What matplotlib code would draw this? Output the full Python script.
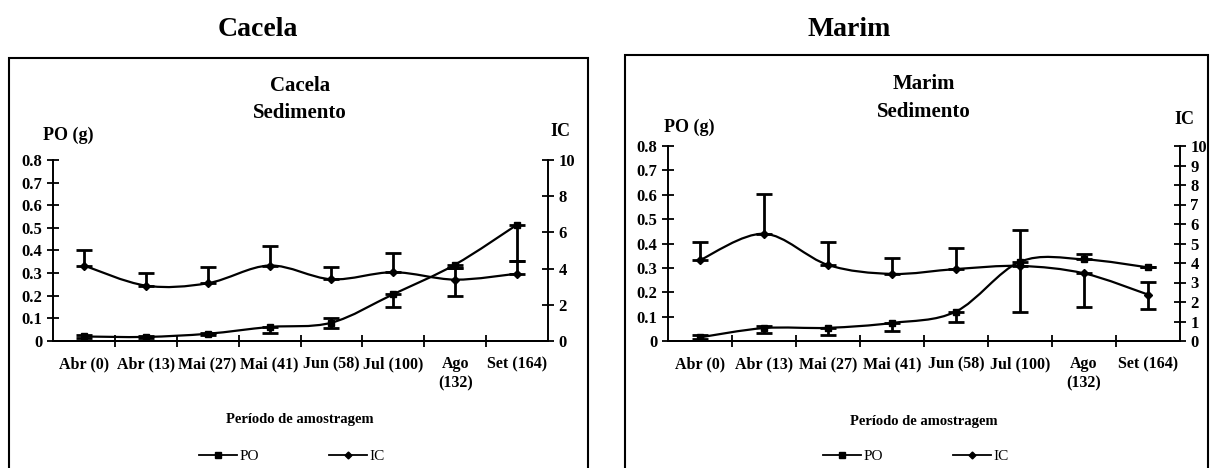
import matplotlib
matplotlib.use("Agg")
import matplotlib.pyplot as plt
import numpy as np
from matplotlib.path import Path
from matplotlib.patches import PathPatch, Rectangle
from matplotlib.lines import Line2D

plt.rcParams['font.family'] = ['Liberation Serif', 'DejaVu Serif']

months = ['Abr (0)', 'Abr (13)', 'Mai (27)', 'Mai (41)', 'Jun (58)',
          'Jul (100)', 'Ago\n(132)', 'Set (164)']

# Cacela - PO (g) on the left axis, IC on the right axis
po_cacela = [0.02, 0.018, 0.032, 0.062, 0.081, 0.207, 0.338, 0.514]
po_cacela_lo = [0.006, 0.006, 0.004, 0.028, 0.025, 0.055, 0.015, 0.16]
po_cacela_hi = [0.006, 0.006, 0.004, 0.0, 0.02, 0.0, 0.0, 0.0]
ic_cacela = [4.17, 3.06, 3.19, 4.17, 3.41, 3.8, 3.39, 3.72]
ic_cacela_lo = [0, 0, 0, 0, 0, 0, 0.89, 0]
ic_cacela_hi = [0.85, 0.72, 0.92, 1.1, 0.7, 1.05, 0.65, 0.7]

# Marim
po_marim = [0.015, 0.053, 0.054, 0.074, 0.121, 0.325, 0.335, 0.302]
po_marim_lo = [0.008, 0.019, 0.031, 0.031, 0.045, 0.204, 0.0, 0.0]
po_marim_hi = [0.008, 0.01, 0.0, 0.0, 0.0, 0.0, 0.023, 0.0]
ic_marim = [4.15, 5.5, 3.9, 3.44, 3.69, 3.85, 3.47, 2.38]
ic_marim_lo = [0, 0, 0, 0, 0, 0, 1.73, 0.72]
ic_marim_hi = [0.91, 2.04, 1.18, 0.83, 1.09, 1.83, 0, 0.64]

po_ticks = [0, 0.1, 0.2, 0.3, 0.4, 0.5, 0.6, 0.7, 0.8]
po_ticklabels = ['0', '0.1', '0.2', '0.3', '0.4', '0.5', '0.6', '0.7', '0.8']

W, H = 1210, 468


def smooth_line(ax, x, y, lw=1.6):
    # excel-like smoothed line drawn as cubic bezier through the points
    n = len(x)
    verts = [(x[0], y[0])]
    codes = [Path.MOVETO]
    for i in range(n - 1):
        p0 = (x[max(i - 1, 0)], y[max(i - 1, 0)])
        p1 = (x[i], y[i])
        p2 = (x[i + 1], y[i + 1])
        p3 = (x[min(i + 2, n - 1)], y[min(i + 2, n - 1)])
        c1 = (p1[0] + (p2[0] - p0[0]) / 6, p1[1] + (p2[1] - p0[1]) / 6)
        c2 = (p2[0] - (p3[0] - p1[0]) / 6, p2[1] - (p3[1] - p1[1]) / 6)
        verts += [c1, c2, p2]
        codes += [Path.CURVE4] * 3
    ax.add_patch(PathPatch(Path(verts, codes), fill=False, lw=lw,
                           edgecolor='black', zorder=3))


def draw_panel(fig, rect, po, po_lo, po_hi, ic, ic_lo, ic_hi, ic_ticks):
    ax = fig.add_axes(rect)
    ax2 = ax.twinx()
    x = np.arange(len(months))

    smooth_line(ax, x, po)
    ax.plot(x, po, ls='none', marker='s', ms=5, color='black', zorder=4)
    ax.errorbar(x, po, yerr=[po_lo, po_hi], fmt='none', ecolor='black',
                elinewidth=2, capsize=6, capthick=2, zorder=4)

    smooth_line(ax2, x, ic)
    ax2.plot(x, ic, ls='none', marker='D', ms=4.5, color='black', zorder=4)
    ax2.errorbar(x, ic, yerr=[ic_lo, ic_hi], fmt='none', ecolor='black',
                 elinewidth=2, capsize=6, capthick=2, zorder=4)

    ax.set_xlim(-0.5, len(months) - 0.5)
    ax.set_ylim(0, 0.8)
    ax2.set_ylim(0, 10)
    ax.set_yticks(po_ticks)
    ax.set_yticklabels(po_ticklabels, fontsize=12, fontweight='bold')
    ax2.set_yticks(ic_ticks)
    ax2.set_yticklabels([str(t) for t in ic_ticks], fontsize=12, fontweight='bold')
    ax.set_xticks(x)
    ax.set_xticklabels(months, fontsize=11.5, fontweight='bold', linespacing=1.3)
    ax.set_xticks(np.arange(0.5, len(months) - 1, 1.0), minor=True)
    ax.tick_params(axis='x', which='major', length=0, pad=11)
    ax.tick_params(axis='x', which='minor', length=9, width=1.3, direction='inout')
    ax.tick_params(axis='y', length=9, width=1.3, direction='inout', pad=3)
    ax2.tick_params(axis='y', length=9, width=1.3, direction='inout', pad=3)

    for a in (ax, ax2):
        a.spines['top'].set_visible(False)
        for s in ('left', 'right', 'bottom'):
            a.spines[s].set_linewidth(1.4)
    ax2.spines['left'].set_visible(False)
    ax.spines['right'].set_visible(False)
    ax.set_zorder(ax2.get_zorder() + 1)
    ax.patch.set_visible(False)
    return ax


fig = plt.figure(figsize=(W / 100, H / 100), dpi=100)

draw_panel(fig, [53 / W, 1 - 341 / H, 495 / W, 181 / H],
           po_cacela, po_cacela_lo, po_cacela_hi,
           ic_cacela, ic_cacela_lo, ic_cacela_hi, [0, 2, 4, 6, 8, 10])
draw_panel(fig, [668 / W, 1 - 341 / H, 512 / W, 195 / H],
           po_marim, po_marim_lo, po_marim_hi,
           ic_marim, ic_marim_lo, ic_marim_hi, list(range(11)))

# panel frames
fig.add_artist(Rectangle((9 / W, -0.1), 579 / W, 1.1 - 58 / H, transform=fig.transFigure,
                         fill=False, lw=1.5, edgecolor='black'))
fig.add_artist(Rectangle((625 / W, -0.1), 583 / W, 1.1 - 55 / H, transform=fig.transFigure,
                         fill=False, lw=1.5, edgecolor='black'))


# titles and labels
def ftext(xp, yp, s, **kw):
    fig.text(xp / W, 1 - yp / H, s, fontweight='bold', va='center', **kw)


ftext(258, 29, 'Cacela', fontsize=20, ha='center')
ftext(849, 29, 'Marim', fontsize=20, ha='center')

ftext(300, 86, 'Cacela', fontsize=15, ha='center')
ftext(300, 113, 'Sedimento', fontsize=15, ha='center')
ftext(924, 84, 'Marim', fontsize=15, ha='center')
ftext(924, 112, 'Sedimento', fontsize=15, ha='center')

ftext(43, 135, 'PO (g)', fontsize=13, ha='left')
ftext(560, 132, 'IC', fontsize=13, ha='center')
ftext(664, 127, 'PO (g)', fontsize=13, ha='left')
ftext(1184, 119, 'IC', fontsize=13, ha='center')

ftext(300, 419, 'Período de amostragem', fontsize=10.5, ha='center')
ftext(924, 421, 'Período de amostragem', fontsize=10.5, ha='center')

handles = [Line2D([], [], color='black', lw=1.3, marker='s', ms=4),
           Line2D([], [], color='black', lw=1.3, marker='D', ms=3.5)]
for cx in (292, 916):
    fig.legend(handles, ['PO', 'IC'], loc='center', ncol=2, frameon=False,
               bbox_to_anchor=(cx / W, 1 - 456 / H), fontsize=11,
               handlelength=2.5, handletextpad=0.15, columnspacing=4.6)

fig.savefig('out.png', dpi=100)
